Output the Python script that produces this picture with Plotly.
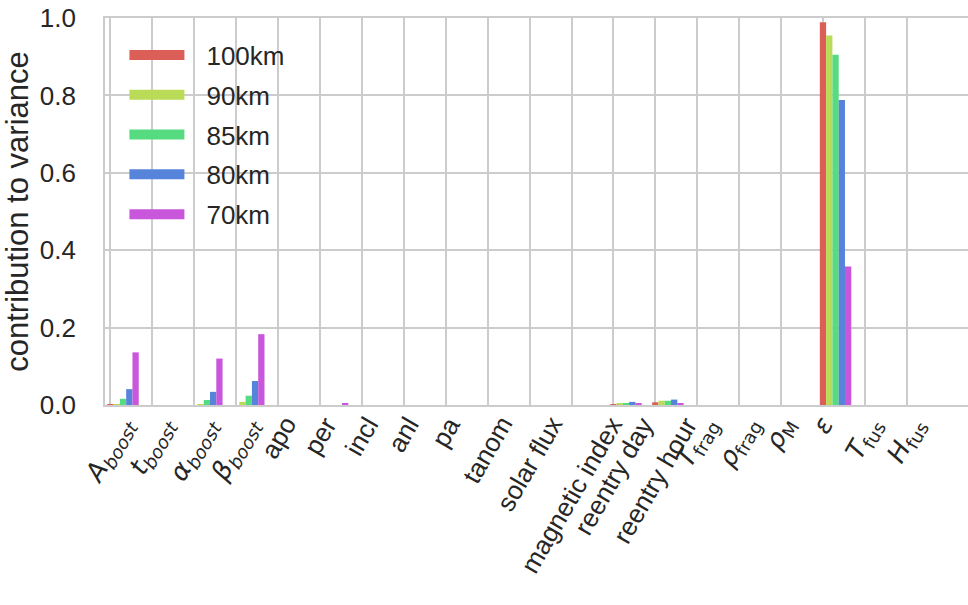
import numpy as np
import plotly.graph_objects as go

# ---------------- data ----------------
categories = [
    "A_boost", "t_boost", "alpha_boost", "beta_boost", "apo", "per", "incl", "anl",
    "pa", "tanom", "solar flux", "magnetic index", "reentry day", "reentry hour",
    "T_frag", "rho_frag", "rho_M", "epsilon", "T_fus", "H_fus",
]
MF = '<span style="font-family:DejaVu Sans">'
tick_labels = [
    MF + "<i>A</i><sub><i>boost</i></sub></span>",
    MF + "<i>t</i><sub><i>boost</i></sub></span>",
    MF + "<i>α</i><sub><i>boost</i></sub></span>",
    MF + "<i>β</i><sub><i>boost</i></sub></span>",
    "apo", "per", "incl", "anl", "pa", "tanom", "solar flux", "magnetic index",
    "reentry day", "reentry hour",
    MF + "<i>T</i><sub>frag</sub></span>",
    MF + "<i>ρ</i><sub>frag</sub></span>",
    MF + "<i>ρ</i><sub>M</sub></span>",
    MF + "<i>ε</i></span>",
    MF + "<i>T</i><sub>fus</sub></span>",
    MF + "<i>H</i><sub>fus</sub></span>",
]
series_names = ["100km", "90km", "85km", "80km", "70km"]
v100 = [0.001, 0, 0, 0, 0, 0, 0, 0, 0, 0, 0, 0, 0.001, 0.007, 0, 0, 0, 0.989, 0, 0]
v90 = [0.002, 0, 0.002, 0.008, 0, 0, 0, 0, 0, 0, 0, 0, 0.004, 0.011, 0, 0, 0, 0.955, 0, 0]
v85 = [0.016, 0, 0.013, 0.024, 0, 0, 0, 0, 0, 0, 0, 0, 0.005, 0.011, 0, 0, 0, 0.905, 0, 0]
v80 = [0.041, 0, 0.034, 0.062, 0, 0, 0, 0, 0, 0, 0, 0, 0.008, 0.014, 0, 0, 0, 0.788, 0, 0]
v70 = [0.136, 0, 0.120, 0.183, 0, 0.003, 0, 0, 0, 0, 0, 0, 0.003, 0.003, 0, 0, 0, 0.358, 0, 0]
series_values = [v100, v90, v85, v80, v70]
colors = ["#db5f57", "#b9db57", "#57db80", "#5784db", "#c957db"]
y_ticks = [0.0, 0.2, 0.4, 0.6, 0.8, 1.0]

# ---------------- figure ----------------
idx = np.arange(len(categories))
bar_w = 0.15
TXT = "#262626"
GRID = "#cccccc"

fig = go.Figure()
for i, (name, vals, col) in enumerate(zip(series_names, series_values, colors)):
    fig.add_trace(go.Bar(
        x=idx + i * bar_w, y=vals, width=bar_w, name=name,
        marker=dict(color=col, line=dict(width=0)),
        legendgroup=name, showlegend=False,
    ))
    # legend proxy (wide swatch)
    fig.add_trace(go.Scatter(
        x=[None], y=[None], mode="lines", name=name,
        line=dict(color=col, width=17, dash="55px,300px"),
        legendgroup=name, showlegend=True,
    ))

for k, lab in enumerate(tick_labels):
    fig.add_annotation(
        x=idx[k], y=0, xref="x", yref="y", text=lab, showarrow=False,
        textangle=-60, xanchor="center", yanchor="top", yshift=-4, xshift=0,
        font=dict(family="Liberation Sans, Arial, sans-serif", size=26, color=TXT),
    )

fig.update_layout(
    width=968, height=605,
    margin=dict(l=105, r=0, t=18, b=200, autoexpand=False),
    paper_bgcolor="white", plot_bgcolor="white",
    font=dict(family="Liberation Sans, Arial, sans-serif", size=26, color=TXT),
    barmode="overlay",
    legend=dict(
        x=0.0225, y=0.965, xanchor="left", yanchor="top",
        bgcolor="rgba(0,0,0,0)", itemwidth=72, tracegroupgap=3,
        font=dict(size=26, color=TXT), traceorder="grouped",
    ),
    showlegend=True,
)
fig.update_xaxes(
    range=[-0.13, 20.46], tickvals=list(idx), showticklabels=False,
    showgrid=True, gridcolor=GRID, gridwidth=1.6, automargin=False,
    showline=True, mirror=True, linecolor=GRID, linewidth=1.6, zeroline=False, ticks="",
)
fig.update_yaxes(
    range=[0, 1.0], tickvals=y_ticks, tickformat=".1f",
    showgrid=True, gridcolor=GRID, gridwidth=1.6, automargin=False,
    showline=True, linecolor=GRID, linewidth=1.6, zeroline=False, ticks="",
    ticklabelstandoff=22, ticklabeloverflow="allow",
    title=dict(text="contribution to variance", standoff=6, font=dict(size=31, color=TXT)),
    tickfont=dict(size=26, color=TXT),
)

fig.write_html("out.html", config={"displayModeBar": False},
               post_script="document.body.style.margin='0px';")
